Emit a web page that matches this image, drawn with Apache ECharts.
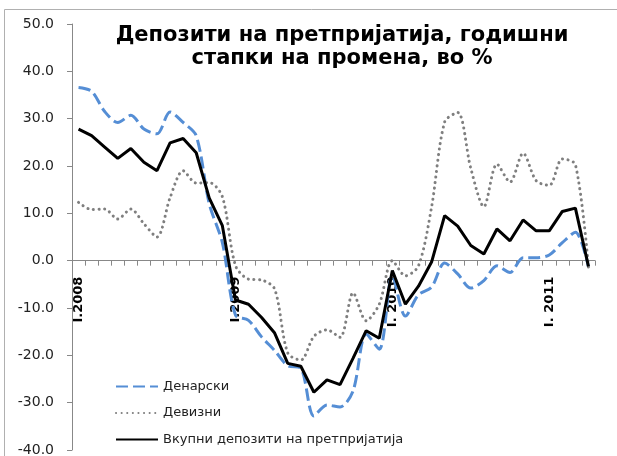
<!DOCTYPE html>
<html>
<head>
<meta charset="utf-8">
<script src="https://cdn.jsdelivr.net/npm/echarts@6/dist/echarts.min.js"></script>
<style>
  html, body { margin: 0; padding: 0; background: #fff; }
  #chart { width: 617px; height: 456px; }
</style>
</head>
<body>
<div id="chart"></div>
<script>
// monthly, I.2008 - IV.2011
var months = [];
for (var y = 2008; y <= 2011; y++) {
  for (var m = 1; m <= 12; m++) {
    if (y === 2011 && m > 4) break;
    months.push(m + '.' + y);
  }
}
var yearLabels = { 0: 'I.2008', 12: 'I.2009', 24: 'I. 2010', 36: 'I. 2011' };

var yMin = -40, yMax = 50, yStep = 10;

var denarski = [36.6, 35.8, 31.5, 29.2, 30.7, 27.8, 26.8, 31.4, 29.2, 26.4,
  12.0, 3.8, -11.5, -12.6, -16.1, -19.0, -22.2, -22.7, -32.8, -30.5,
  -30.9, -27.5, -15.5, -18.7, -3.2, -11.7, -7.2, -5.6, -0.5, -2.8,
  -5.8, -4.2, -1.1, -2.5, 0.6, 0.6, 1.2, 3.8, 6.0, -1.3];

var devizni = [12.3, 10.8, 10.9, 8.8, 10.9, 7.8, 5.0, 13.3, 19.0, 16.4,
  16.5, 13.5, -1.0, -3.9, -4.1, -6.0, -19.5, -21.0, -16.0, -14.6,
  -16.2, -6.8, -12.7, -9.2, 0.0, -3.2, -1.1, 11.3, 29.3, 31.3,
  19.5, 11.4, 20.4, 16.6, 22.7, 16.9, 15.9, 21.5, 20.3, -1.4];

var vkupno = [27.8, 26.4, 24.0, 21.6, 23.7, 20.8, 19.0, 24.9, 25.8, 22.8,
  13.2, 7.4, -8.3, -9.2, -12.0, -15.3, -21.7, -22.3, -27.8, -25.2,
  -26.2, -20.6, -14.8, -16.4, -2.1, -9.2, -5.4, -0.3, 9.5, 7.3,
  3.2, 1.4, 6.7, 4.2, 8.6, 6.3, 6.3, 10.4, 11.1, -1.2];

var font = 'DejaVu Sans';
var chart = echarts.init(document.getElementById('chart'));

var gridTop = 24, gridBottom = 6;
var plotH = 456 - gridTop - gridBottom;
// move the category axis up to the zero line
var zeroOffset = -plotH * (0 - yMin) / (yMax - yMin);

var option = {
  animation: false,
  textStyle: { fontFamily: font },
  graphic: [
    {
      type: 'rect',
      shape: { x: 4.5, y: 9.5, width: 700, height: 600 },
      style: { fill: 'none', stroke: '#b0b0b0', lineWidth: 1 },
      silent: true
    },
    {
      type: 'text',
      x: 342, y: 24,
      style: {
        text: 'Депозити на претпријатија, годишни\nстапки на промена, во %',
        fill: '#000',
        font: 'bold 21px "DejaVu Sans"',
        textAlign: 'center',
        lineHeight: 23
      },
      z: 10
    }
  ],
  grid: { left: 72, right: 22, top: gridTop, bottom: gridBottom, outerBoundsMode: 'none', containLabel: false },
  legend: {
    orient: 'vertical',
    left: 115,
    top: 380,
    itemWidth: 42,
    itemHeight: 14,
    itemGap: 13.5,
    padding: 0,
    itemStyle: { opacity: 0 },
    textStyle: { fontSize: 13, color: '#222', fontFamily: font },
    data: ['Денарски', 'Девизни', 'Вкупни депозити на претпријатија']
  },
  xAxis: {
    type: 'category',
    data: months,
    boundaryGap: true,
    offset: zeroOffset,
    axisLine: { onZero: false, lineStyle: { color: '#888', width: 1 } },
    axisTick: { show: true, interval: 0, length: 5, lineStyle: { color: '#888' } },
    axisLabel: {
      interval: function (i) { return yearLabels[i] !== undefined; },
      formatter: function (v, i) { return yearLabels[i] || ''; },
      rotate: 90,
      margin: 16,
      fontSize: 13,
      fontWeight: 'bold',
      color: '#000',
      fontFamily: font
    },
    splitLine: { show: false }
  },
  yAxis: {
    type: 'value',
    min: yMin,
    max: yMax,
    interval: yStep,
    axisLine: { show: true, lineStyle: { color: '#888', width: 1 } },
    axisTick: { show: true, length: 5, lineStyle: { color: '#888' } },
    axisLabel: {
      formatter: function (v) { return v.toFixed(1); },
      fontSize: 14,
      color: '#222',
      margin: 18,
      fontFamily: font
    },
    splitLine: { show: false }
  },
  series: [
    {
      name: 'Денарски',
      type: 'line',
      data: denarski,
      symbol: 'none',
      smooth: 0.3,
      lineStyle: { color: '#558ED5', width: 3, type: [12, 5] },
      itemStyle: { color: '#558ED5' },
      z: 2
    },
    {
      name: 'Девизни',
      type: 'line',
      data: devizni,
      symbol: 'none',
      smooth: 0.3,
      lineStyle: { color: '#7f7f7f', width: 3, type: [0.1, 5.5], cap: 'round' },
      itemStyle: { color: '#7f7f7f' },
      z: 2
    },
    {
      name: 'Вкупни депозити на претпријатија',
      type: 'line',
      data: vkupno,
      symbol: 'none',
      lineStyle: { color: '#000', width: 3 },
      itemStyle: { color: '#000' },
      z: 3
    }
  ]
};

chart.setOption(option);
window.addEventListener('resize', function () { chart.resize(); });
</script>
</body>
</html>
